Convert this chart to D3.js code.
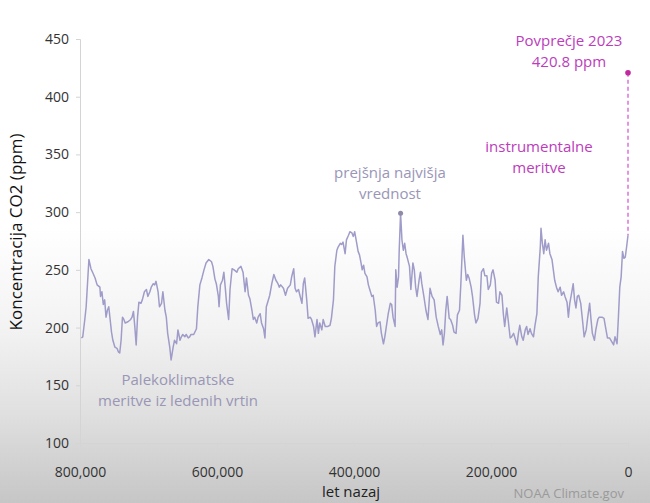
<!DOCTYPE html>
<html>
<head>
<meta charset="utf-8">
<script src="https://cdn.jsdelivr.net/npm/d3@7"></script>
<style>
  html, body { margin: 0; padding: 0; }
  body { width: 650px; height: 503px; overflow: hidden; }
  svg text { font-family: "Open Sans", "DejaVu Sans", sans-serif; }
</style>
</head>
<body>
<div id="figure-container"></div>
<script>
// ice core CO2 record, [thousand years ago, ppm]
var iceCore = [
  [798,191],[796,192],[793,207],[791,218],[787,259],[784,251],[781,247],[778,243],[775,237],[771,235],
  [770,227],[768,231],[766,220],[764,224],[762,209],[760,215],[758,218],[756,207],[754,196],[752,189],
  [749,183],[746,182],[744,179],[742,178],[740,189],[738,209],[736,207],[734,204],[730,205],[726,207],
  [724,209],[722,214],[720,201],[718,185],[716,209],[714,222],[711,221],[709,224],[706,231],[703,233],
  [701,227],[698,231],[696,235],[693,238],[691,237],[689,240],[686,231],[684,218],[681,221],[679,231],
  [676,215],[674,209],[672,195],[669,183],[667,172],[664,183],[662,189],[659,186],[657,198],[654,189],
  [652,192],[650,194],[647,192],[645,194],[642,191],[640,192],[638,194],[634,194],[630,199],[628,218],
  [625,237],[622,243],[619,250],[616,256],[612,259],[608,257],[606,253],[603,242],[601,238],[598,227],
  [597,218],[595,237],[592,241],[590,248],[588,235],[586,221],[583,207],[581,233],[578,251],[575,250],
  [571,248],[569,251],[565,253],[562,248],[559,231],[557,243],[554,228],[552,225],[549,215],[547,207],
  [545,209],[542,204],[540,209],[537,212],[535,204],[532,199],[530,191],[528,218],[526,222],[523,228],
  [520,238],[517,246],[514,241],[511,238],[509,235],[507,237],[503,234],[500,228],[497,234],[493,237],
  [491,244],[488,251],[486,234],[484,231],[481,233],[479,228],[476,221],[474,238],[472,243],[469,224],
  [467,208],[464,209],[462,207],[459,201],[457,192],[454,207],[452,195],[450,204],[447,198],[445,207],
  [442,201],[438,201],[435,202],[433,208],[430,224],[428,253],[425,267],[423,270],[420,273],[418,272],
  [416,274],[413,264],[411,276],[408,280],[406,283],[403,282],[401,279],[399,283],[396,273],[394,266],
  [392,263],[390,257],[388,250],[386,254],[384,247],[381,244],[379,237],[377,233],[374,227],[372,228],
  [369,215],[367,201],[365,204],[362,205],[360,195],[357,186],[355,192],[352,204],[350,212],[347,221],
  [345,220],[343,209],[340,201],[339,250],[337,235],[335,244],[334,267],[332,299],[330,276],[328,267],
  [326,273],[324,264],[322,260],[319,253],[317,233],[314,256],[312,250],[310,235],[308,227],[305,241],
  [303,248],[301,238],[298,227],[295,215],[292,207],[289,234],[286,227],[283,224],[280,209],[277,201],
  [274,194],[272,198],[270,185],[268,195],[266,215],[264,227],[261,208],[259,207],[256,202],[254,196],
  [251,195],[249,211],[246,215],[244,238],[241,280],[239,261],[236,241],[234,246],[232,243],[229,235],
  [227,227],[224,211],[222,204],[219,208],[216,221],[214,248],[211,251],[209,245],[206,245],[204,233],
  [201,237],[199,247],[197,250],[194,241],[192,222],[189,221],[187,231],[184,228],[182,212],[180,201],
  [177,217],[175,207],[172,191],[170,192],[167,195],[165,191],[162,185],[160,195],[158,202],[155,192],
  [153,189],[150,198],[148,201],[146,194],[143,199],[141,195],[138,192],[136,201],[133,212],[131,244],
  [128,270],[127,286],[125,273],[123,264],[121,276],[119,267],[116,273],[114,264],[111,259],[109,250],
  [107,241],[104,234],[102,231],[99,235],[97,228],[94,231],[92,227],[89,222],[87,209],[85,221],
  [82,231],[80,238],[78,224],[76,217],[74,227],[72,228],[69,221],[66,204],[64,192],[61,198],
  [59,208],[56,221],[54,207],[52,195],[49,189],[47,198],[44,207],[42,209],[38,209],[35,208],
  [33,201],[30,191],[27,191],[24,188],[21,185],[19,192],[16,186],[14,209],[12,235],[10,244],
  [8,266],[6,260],[4,261],[2,270],[0,280]
];

var yTicks = [100, 150, 200, 250, 300, 350, 400, 450];
var xTicks = [800000, 700000, 600000, 500000, 400000, 300000, 200000, 100000, 0];
var xLabelled = [800000, 600000, 400000, 200000, 0];

var avg2023 = 420.8;
var prevHigh = [332, 299];   // kyr ago, ppm

var margin = {top: 39, right: 22, bottom: 60, left: 80};
var fullWidth = 650, fullHeight = 503;
var width = fullWidth - margin.left - margin.right;
var height = fullHeight - margin.top - margin.bottom;

var xScale = d3.scaleLinear().domain([800000, 0]).range([0, width]);
var yScale = d3.scaleLinear().domain([100, 450]).range([height, 0]);

var svg = d3.select('#figure-container')
  .append('svg')
  .attr('width', fullWidth)
  .attr('height', fullHeight);

var grad = svg.append('defs').append('linearGradient')
  .attr('id', 'bg').attr('x1', 0).attr('y1', 0).attr('x2', 0).attr('y2', 1);
grad.append('stop').attr('offset', '0%').attr('stop-color', '#ffffff');
grad.append('stop').attr('offset', '45%').attr('stop-color', '#ffffff');
grad.append('stop').attr('offset', '65%').attr('stop-color', '#f3f3f3');
grad.append('stop').attr('offset', '82%').attr('stop-color', '#e0e0e0');
grad.append('stop').attr('offset', '100%').attr('stop-color', '#c6c6c6');

svg.append('rect')
  .attr('width', fullWidth).attr('height', fullHeight)
  .attr('fill', 'url(#bg)');

var g = svg.append('g')
  .attr('transform', `translate(${margin.left},${margin.top})`);

// axes
var yAxis = d3.axisLeft(yScale).tickValues(yTicks).tickSize(4).tickPadding(7);
var xAxis = d3.axisBottom(xScale).tickValues(xTicks).tickSize(4).tickPadding(20)
  .tickFormat(function(d) { return xLabelled.indexOf(d) >= 0 ? d3.format(',')(d) : ''; });

var gy = g.append('g').attr('class', 'axis y').call(yAxis);
var gx = g.append('g').attr('class', 'axis x')
  .attr('transform', `translate(0,${height})`)
  .call(xAxis);

[gx, gy].forEach(function(a) {
  a.select('.domain').attr('stroke', '#d4d4d4');
  a.selectAll('.tick line').attr('stroke', '#d4d4d4');
  a.selectAll('.tick text').attr('fill', '#333').style('font-size', '14px');
});

svg.append('text')
  .attr('transform', `translate(22,${margin.top + 193}) rotate(-90)`)
  .attr('text-anchor', 'middle')
  .attr('fill', '#111')
  .style('font-size', '17px')
  .text('Koncentracija CO2 (ppm)');

svg.append('text')
  .attr('x', margin.left + width / 2 - 3)
  .attr('y', 497)
  .attr('text-anchor', 'middle')
  .attr('fill', '#222')
  .style('font-size', '15px')
  .text('let nazaj');

svg.append('text')
  .attr('x', 624)
  .attr('y', 498)
  .attr('text-anchor', 'end')
  .attr('fill', '#9a9a9a')
  .style('font-size', '13px')
  .text('NOAA Climate.gov');

// ice core line
var line = d3.line()
  .x(function(d) { return xScale(d[0] * 1000); })
  .y(function(d) { return yScale(d[1]); });

g.append('path')
  .datum(iceCore)
  .attr('fill', 'none')
  .attr('stroke', '#9f9cc9')
  .attr('stroke-width', 1.5)
  .attr('stroke-linejoin', 'round')
  .attr('d', line);

// 2023 average
var last = iceCore[iceCore.length - 1];
g.append('line')
  .attr('x1', xScale(0)).attr('x2', xScale(0))
  .attr('y1', yScale(avg2023)).attr('y2', yScale(last[1]))
  .attr('stroke', '#d24fcf')
  .attr('stroke-width', 1.2)
  .attr('stroke-dasharray', '4,3');

g.append('circle')
  .attr('cx', xScale(0)).attr('cy', yScale(avg2023))
  .attr('r', 2.8).attr('fill', '#c2279f');

// previous high
g.append('circle')
  .attr('cx', xScale(prevHigh[0] * 1000)).attr('cy', yScale(prevHigh[1]))
  .attr('r', 2.5).attr('fill', '#8e8aa8');

var notes = [
  {lines: ['Povprečje 2023', avg2023 + ' ppm'], x: 569, y: 46, color: '#bb3dbb'},
  {lines: ['instrumentalne', 'meritve'], x: 539, y: 152, color: '#bb3dbb'},
  {lines: ['prejšnja najvišja', 'vrednost'], x: 390, y: 178, color: '#9996b6'},
  {lines: ['Palekoklimatske', 'meritve iz ledenih vrtin'], x: 178, y: 385, color: '#9996b6'}
];

notes.forEach(function(n) {
  var t = svg.append('text')
    .attr('text-anchor', 'middle')
    .attr('fill', n.color)
    .style('font-size', '15px');
  n.lines.forEach(function(l, i) {
    t.append('tspan').attr('x', n.x).attr('y', n.y + i * 20.5).text(l);
  });
});
</script>
</body>
</html>
